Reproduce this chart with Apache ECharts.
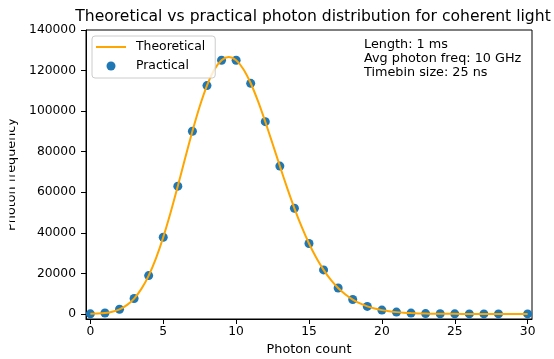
<!DOCTYPE html>
<html>
<head>
<meta charset="utf-8">
<script src="https://cdn.jsdelivr.net/npm/echarts@6/dist/echarts.min.js"></script>
<style>
  html, body { margin: 0; padding: 0; background: #fff; }
  #chart { width: 554px; height: 359px; }
</style>
</head>
<body>
<div id="chart"></div>
<script>
// Measured photon counts per time bin
const photonCounts = [0, 1, 2, 3, 4, 5, 6, 7, 8, 9, 10, 11, 12, 13, 14, 15, 16, 17, 18, 19, 20,
  21, 22, 23, 24, 25, 26, 27, 28, 30];
const practicalFreq = [50, 450, 2300, 7600, 18900, 37800, 63000, 90100, 112600, 125100, 125100,
  113700, 94800, 72900, 52100, 34700, 21700, 12800, 7100, 3700, 1900,
  900, 400, 180, 70, 30, 10, 4, 2, 0];

// Expected distribution, sampled finely enough for a smooth curve
const theoryX = [0, 0.5, 1, 1.5, 2, 2.5, 3, 3.5, 4, 4.5, 5, 5.5, 6, 6.5, 7, 7.5, 8, 8.5, 9, 9.5,
  10, 10.5, 11, 11.5, 12, 12.5, 13, 13.5, 14, 14.5, 15, 15.5, 16, 16.5, 17, 17.5, 18, 18.5, 19, 19.5,
  20, 20.5, 21, 21.5, 22, 22.5, 23, 23.5, 24, 24.5, 25, 26, 27, 28, 29, 30];
const theoryFreq = [45, 162, 454, 1080, 2270, 4320, 7570, 12340, 18920, 27430, 37830, 49870, 63060, 76730,
  90080, 102300, 112600, 120350, 125110, 126690, 125110, 120650, 113740, 104920, 94780, 83930,
  72910, 62170, 52080, 42880, 34720, 27660, 21700, 16770, 12760, 9580, 7090, 5180, 3730, 2660,
  1870, 1300, 890, 600, 400, 270, 180, 110, 70, 50, 30, 10, 4, 2, 1, 0];

const xTicks = [0, 5, 10, 15, 20, 25, 30];
const yTicks = [0, 20000, 40000, 60000, 80000, 100000, 120000, 140000];

const infoLines = ['Length: 1 ms', 'Avg photon freq: 10 GHz', 'Timebin size: 25 ns'];

const FONT = 'DejaVu Sans';
const chart = echarts.init(document.getElementById('chart'), null, { renderer: 'canvas' });

chart.setOption({
  animation: false,
  backgroundColor: '#fff',
  textStyle: { fontFamily: FONT, color: '#000' },
  title: [
    {
      text: 'Theoretical vs practical photon distribution for coherent light',
      left: 308, top: 4, textAlign: 'center',
      textStyle: { fontFamily: FONT, fontSize: 15.6, fontWeight: 'normal', color: '#000' }
    },
    {
      text: infoLines.join('\n'),
      left: 364, top: 38, padding: 0,
      textStyle: { fontFamily: FONT, fontSize: 12.8, fontWeight: 'normal', color: '#000', lineHeight: 14 }
    }
  ],
  legend: {
    left: 92, top: 36,
    orient: 'vertical',
    padding: [5, 10, 6, 4],
    itemGap: 7,
    itemWidth: 30,
    itemHeight: 9,
    backgroundColor: 'rgba(255,255,255,0.8)',
    borderColor: '#cccccc',
    borderWidth: 1,
    borderRadius: 3,
    textStyle: { fontFamily: FONT, fontSize: 12.4, color: '#000', padding: [0, 0, 0, 5] },
    data: [
      { name: 'Theoretical', icon: 'path://M0,0L30,0L30,2L0,2Z' },
      { name: 'Practical', icon: 'circle' }
    ]
  },
  grid: {
    left: 86, top: 30, right: 22, bottom: 40,
    outerBoundsMode: 'none',
    containLabel: false,
    show: true, borderColor: '#000', borderWidth: 1, backgroundColor: 'transparent'
  },
  // the page's left margin trims the top of the rotated y-axis title
  graphic: [{
    type: 'rect', left: 0, top: 100, z: 100, silent: true,
    shape: { width: 9.5, height: 150 },
    style: { fill: '#fff' }
  }],
  xAxis: {
    type: 'value',
    min: -0.3, max: 30.3,
    name: 'Photon count',
    nameLocation: 'middle',
    nameGap: 23,
    nameTextStyle: { fontFamily: FONT, fontSize: 12.8, color: '#000' },
    axisLine: { show: true, onZero: false, lineStyle: { color: '#000', width: 1 } },
    axisTick: { show: true, length: 5, lineStyle: { color: '#000' }, customValues: xTicks },
    axisLabel: { fontFamily: FONT, fontSize: 12.3, color: '#000', margin: 7, customValues: xTicks },
    splitLine: { show: false }
  },
  yAxis: {
    type: 'value',
    min: -2500, max: 140000,
    name: 'Photon frequency',
    nameLocation: 'middle',
    nameGap: 66,
    nameRotate: 90,
    nameTextStyle: { fontFamily: FONT, fontSize: 12.8, color: '#000' },
    axisLine: { show: true, onZero: false, lineStyle: { color: '#000', width: 1 } },
    axisTick: { show: true, length: 5, lineStyle: { color: '#000' }, customValues: yTicks },
    axisLabel: {
      fontFamily: FONT, fontSize: 12.3, color: '#000', margin: 10, customValues: yTicks,
      formatter: (v) => String(v)
    },
    splitLine: { show: false }
  },
  series: [
    {
      name: 'Theoretical',
      type: 'line',
      data: theoryX.map((x, i) => [x, theoryFreq[i]]),
      smooth: 0.3,
      symbol: 'none',
      lineStyle: { color: '#ffa500', width: 2 },
      itemStyle: { color: '#ffa500' },
      z: 3
    },
    {
      name: 'Practical',
      type: 'scatter',
      data: photonCounts.map((x, i) => [x, practicalFreq[i]]),
      symbol: 'circle',
      symbolSize: 9,
      itemStyle: { color: '#1f77b4', opacity: 1 },
      z: 2
    }
  ]
});
</script>
</body>
</html>
